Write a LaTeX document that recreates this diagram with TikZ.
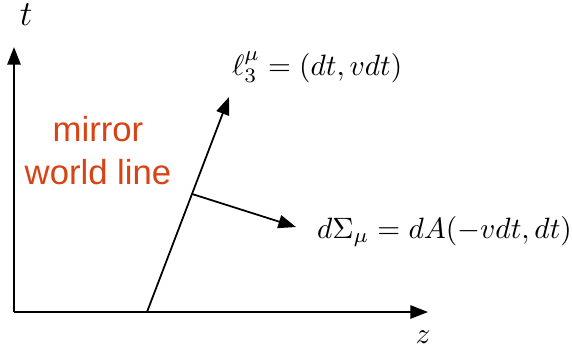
\documentclass[tikz,border=0pt]{standalone}
\usepackage{fontspec}
\newfontfamily\labelfont{Liberation Sans}
\usetikzlibrary{arrows.meta,calc}
\definecolor{mirrorred}{RGB}{216,67,21}
\begin{document}
\begin{tikzpicture}[x=0.34pt,y=-0.34pt,
  axis/.style={line width=0.7pt,-{Triangle[length=6pt,width=4.5pt]}},
  vec/.style={line width=0.6pt,-{Triangle[length=6pt,width=4.5pt]}},
  lbl/.style={inner sep=0pt,outer sep=0pt}]
\useasboundingbox (0,0) rectangle (572,354);
\coordinate (O) at (14,312);
\coordinate (T) at (14,47);
\coordinate (Z) at (428,312);
\coordinate (A) at (147,312);
\coordinate (B) at (229,97);
\coordinate (P) at ($(A)!0.549!(B)$);
\coordinate (N) at (296,227);
\draw[axis] (O) -- (T);
\draw[axis] (O) -- (Z);
\draw[vec] (A) -- (B);
\draw[vec] (P) -- (N);
\node[lbl,font=\fontsize{11.5}{14}\selectfont] (tl) at (26,15) {$t$};
\node[lbl] (zl) at (423,337) {$z$};
\node[lbl,anchor=base west] (ll) at (232,75) {$\ell_3^\mu = (dt, vdt)$};
\node[lbl,anchor=base west] (sl) at (317,238) {$d\Sigma_\mu = dA(-vdt, dt)$};
\node[lbl,align=center,text=mirrorred,font=\labelfont\fontsize{11.8}{14.6}\selectfont] (mw) at (98,151) {mirror\\ world line};
\end{tikzpicture}
\end{document}
